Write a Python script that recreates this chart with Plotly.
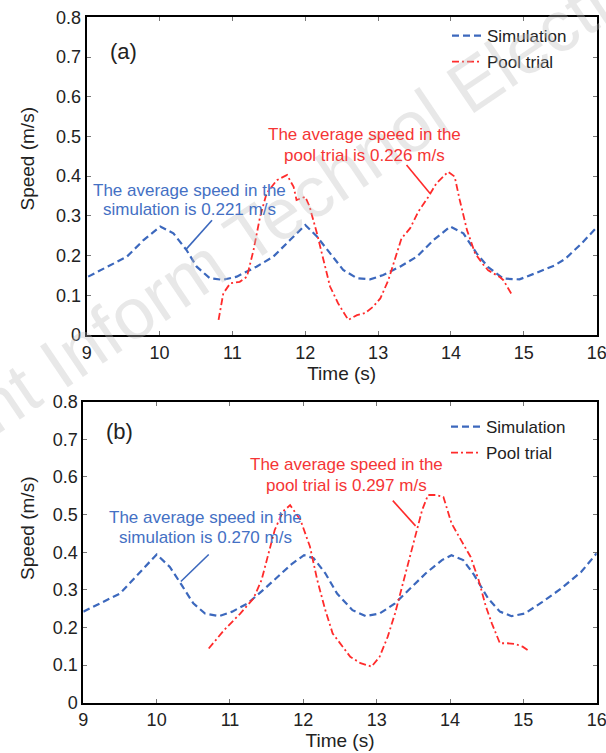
import plotly.graph_objects as go

# ---------------- data ----------------
# Panel (a)
sim_a_t = [9.02, 9.32, 9.55, 9.78, 10.01, 10.19, 10.37, 10.51, 10.69, 10.87, 11.06, 11.33, 11.56, 11.79,
           12.0, 12.16, 12.34, 12.52, 12.71, 12.89, 13.07, 13.3, 13.53, 13.76, 13.99, 14.17, 14.35, 14.51,
           14.72, 14.94, 15.15, 15.42, 15.57, 15.79, 16.0]
sim_a_v = [0.147, 0.176, 0.197, 0.239, 0.273, 0.256, 0.214, 0.172, 0.143, 0.139, 0.147, 0.172, 0.197, 0.239,
           0.277, 0.248, 0.206, 0.164, 0.143, 0.140, 0.151, 0.172, 0.197, 0.239, 0.273, 0.256, 0.206, 0.171,
           0.142, 0.140, 0.155, 0.175, 0.192, 0.230, 0.271]
pool_a_t = [10.81, 10.875, 10.97, 11.10, 11.2, 11.29, 11.38, 11.47, 11.61, 11.75, 11.84, 11.88, 12.0, 12.06,
            12.16, 12.25, 12.34, 12.45, 12.59, 12.71, 12.82, 12.93, 13.03, 13.14, 13.23, 13.32, 13.44, 13.55,
            13.69, 13.8, 13.96, 14.05, 14.12, 14.22, 14.33, 14.43, 14.51, 14.67, 14.72, 14.84]
pool_a_v = [0.038, 0.105, 0.130, 0.134, 0.147, 0.214, 0.298, 0.357, 0.390, 0.403, 0.373, 0.340, 0.348, 0.323,
            0.256, 0.189, 0.122, 0.080, 0.038, 0.050, 0.055, 0.071, 0.092, 0.138, 0.189, 0.243, 0.269, 0.310,
            0.348, 0.382, 0.411, 0.399, 0.340, 0.264, 0.206, 0.180, 0.163, 0.146, 0.138, 0.100]

# Panel (b)
sim_b_t = [9.0, 9.5, 10.0, 10.18, 10.34, 10.5, 10.66, 10.85, 11.03, 11.24, 11.45, 11.66, 11.85, 12.01,
           12.14, 12.3, 12.46, 12.67, 12.85, 13.04, 13.25, 13.46, 13.67, 13.89, 14.02, 14.18, 14.33, 14.52,
           14.68, 14.84, 15.02, 15.26, 15.52, 15.79, 16.0]
sim_b_v = [0.242, 0.290, 0.394, 0.361, 0.313, 0.264, 0.237, 0.230, 0.242, 0.264, 0.299, 0.335, 0.370, 0.392,
           0.384, 0.344, 0.290, 0.246, 0.230, 0.237, 0.264, 0.304, 0.344, 0.379, 0.392, 0.379, 0.339, 0.277,
           0.242, 0.230, 0.237, 0.268, 0.304, 0.348, 0.397]
pool_b_t = [10.71, 10.92, 11.14, 11.32, 11.43, 11.53, 11.61, 11.72, 11.82, 11.96, 12.09, 12.19, 12.3, 12.4,
            12.54, 12.64, 12.78, 12.93, 13.04, 13.15, 13.25, 13.36, 13.46, 13.57, 13.62, 13.7, 13.81, 13.91,
            14.02, 14.15, 14.28, 14.39, 14.49, 14.57, 14.68, 14.78, 14.89, 14.99, 15.09]
pool_b_v = [0.144, 0.193, 0.237, 0.277, 0.326, 0.397, 0.459, 0.508, 0.525, 0.486, 0.415, 0.326, 0.246, 0.184,
            0.149, 0.122, 0.105, 0.096, 0.122, 0.175, 0.237, 0.317, 0.397, 0.477, 0.512, 0.552, 0.552, 0.547,
            0.477, 0.432, 0.388, 0.326, 0.255, 0.211, 0.158, 0.158, 0.156, 0.149, 0.136]

x_ticks = [9, 10, 11, 12, 13, 14, 15, 16]
y_ticks = [0, 0.1, 0.2, 0.3, 0.4, 0.5, 0.6, 0.7, 0.8]
y_tick_text = ["0", "0.1", "0.2", "0.3", "0.4", "0.5", "0.6", "0.7", "0.8"]

panel_labels = ["(a)", "(b)"]
avg_sim = ["0.221", "0.270"]
avg_pool = ["0.226", "0.297"]

# ---------------- styling ----------------
W, H = 606, 753
FONT = "Liberation Sans, Arial, Helvetica, sans-serif"
BLUE = "#3c68bd"
RED = "#ff2b2b"
BLUE_TXT = "#4470c4"
RED_TXT = "#f53535"
INK = "#222"

fig = go.Figure()

fig.add_trace(go.Scatter(x=sim_a_t, y=sim_a_v, mode="lines", name="Simulation", legendgroup="sim",
                         line=dict(color=BLUE, width=2.2, dash="7px,4px"),
                         xaxis="x", yaxis="y", legend="legend"))
fig.add_trace(go.Scatter(x=pool_a_t, y=pool_a_v, mode="lines", name="Pool trial", legendgroup="pool",
                         line=dict(color=RED, width=1.8, dash="7px,3px,2px,3px"),
                         xaxis="x", yaxis="y", legend="legend"))
fig.add_trace(go.Scatter(x=sim_b_t, y=sim_b_v, mode="lines", name="Simulation", legendgroup="sim2",
                         line=dict(color=BLUE, width=2.2, dash="7px,4px"),
                         xaxis="x2", yaxis="y2", legend="legend2"))
fig.add_trace(go.Scatter(x=pool_b_t, y=pool_b_v, mode="lines", name="Pool trial", legendgroup="pool2",
                         line=dict(color=RED, width=1.8, dash="7px,3px,2px,3px"),
                         xaxis="x2", yaxis="y2", legend="legend2"))

def xa(domain, anchor):
    return dict(domain=domain, anchor=anchor, range=[9, 16], tickvals=x_ticks,
                ticks="inside", ticklen=4, tickcolor="#777", tickwidth=1,
                showline=True, linecolor="black", linewidth=2, mirror="ticks",
                showgrid=False, zeroline=False, automargin=False, ticklabeloverflow="allow",
                tickfont=dict(size=18, color=INK, family=FONT),
                title=dict(text="Time (s)", font=dict(size=19, color=INK, family=FONT), standoff=4))

def ya(domain, anchor):
    return dict(domain=domain, anchor=anchor, range=[0, 0.8], tickvals=y_ticks, ticktext=y_tick_text,
                ticks="inside", ticklen=4, tickcolor="#777", tickwidth=1,
                showline=True, linecolor="black", linewidth=2, mirror="ticks",
                showgrid=False, zeroline=False, automargin=False, ticklabeloverflow="allow",
                tickfont=dict(size=18, color=INK, family=FONT))

xd_top = [86.7 / W, 596.7 / W]
yd_top = [1 - 335 / H, 1 - 17.3 / H]
xd_bot = [83.3 / W, 596.7 / W]
yd_bot = [1 - 702.7 / H, 1 - 401.7 / H]

annotations = []
# watermark
annotations.append(dict(text="Front Inform Technol Electron Eng", xref="paper", yref="paper",
                        x=345 / W, y=1 - 170 / H, xanchor="center", yanchor="middle",
                        showarrow=False, textangle=-34,
                        font=dict(size=72, color="rgba(190,190,190,0.35)", family=FONT)))

# y-axis titles
for ty in (159.5, 529):
    annotations.append(dict(text="Speed (m/s)", xref="paper", yref="paper", x=27 / W, y=1 - ty / H,
                            xanchor="center", yanchor="middle", showarrow=False, textangle=-90,
                            font=dict(size=19, color=INK, family=FONT)))

def panel_ann(xr, yr, label, lab_y, sim_txt, pool_txt, bx, by1, by2, rx, ry1, ry2):
    out = []
    out.append(dict(text=label, x=9.5, y=lab_y, xref=xr, yref=yr, showarrow=False,
                    font=dict(size=22, color=INK, family=FONT)))
    out.append(dict(text="The average speed in the", x=bx, y=by1, xref=xr, yref=yr, showarrow=False,
                    font=dict(size=17, color=BLUE_TXT, family=FONT)))
    out.append(dict(text=f"simulation is {sim_txt} m/s", x=bx, y=by2, xref=xr, yref=yr, showarrow=False,
                    font=dict(size=17, color=BLUE_TXT, family=FONT)))
    out.append(dict(text="The average speed in the", x=rx, y=ry1, xref=xr, yref=yr, showarrow=False,
                    font=dict(size=17, color=RED_TXT, family=FONT)))
    out.append(dict(text=f"pool trial is {pool_txt} m/s", x=rx, y=ry2, xref=xr, yref=yr, showarrow=False,
                    font=dict(size=17, color=RED_TXT, family=FONT)))
    return out

annotations += panel_ann("x", "y", panel_labels[0], 0.713, avg_sim[0], avg_pool[0],
                         10.41, 0.365, 0.315, 12.81, 0.505, 0.453)
annotations += panel_ann("x2", "y2", panel_labels[1], 0.72, avg_sim[1], avg_pool[1],
                         10.66, 0.4926, 0.4394, 12.59, 0.633, 0.576)

shapes = [
    dict(type="line", xref="x", yref="y", x0=10.72, y0=0.289, x1=10.36, y1=0.215,
         line=dict(color=BLUE, width=1.6)),
    dict(type="line", xref="x", yref="y", x0=13.39, y0=0.428, x1=13.71, y1=0.357,
         line=dict(color=RED, width=1.6)),
    dict(type="line", xref="x2", yref="y2", x0=10.71, y0=0.394, x1=10.33, y1=0.322,
         line=dict(color=BLUE, width=1.6)),
    dict(type="line", xref="x2", yref="y2", x0=13.22, y0=0.537, x1=13.53, y1=0.47,
         line=dict(color=RED, width=1.6)),
]

legend_common = dict(xanchor="left", yanchor="top", bgcolor="rgba(0,0,0,0)",
                     font=dict(size=17, color=INK, family=FONT),
                     traceorder="grouped", tracegroupgap=1)

fig.update_layout(
    width=W, height=H,
    margin=dict(l=0, r=0, t=0, b=0),
    paper_bgcolor="white", plot_bgcolor="white",
    font=dict(family=FONT, color=INK),
    xaxis=xa(xd_top, "y"), yaxis=ya(yd_top, "x"),
    xaxis2=xa(xd_bot, "y2"), yaxis2=ya(yd_bot, "x2"),
    legend=dict(x=447 / W, y=1 - 18 / H, **legend_common),
    legend2=dict(x=446 / W, y=1 - 409 / H, **legend_common),
    showlegend=True,
    annotations=annotations,
    shapes=shapes,
)

fig.write_html("out.html", config={"displayModeBar": False},
               post_script="document.body.style.margin='0px';")
